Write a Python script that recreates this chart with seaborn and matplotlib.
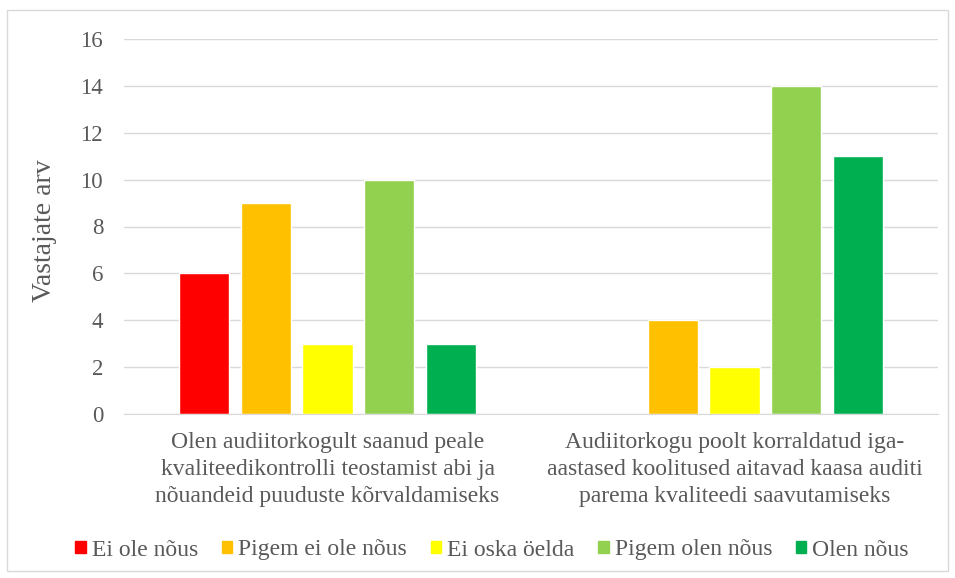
import pandas as pd
import seaborn as sns
import matplotlib.pyplot as plt
from matplotlib.patches import Rectangle

# Chart data
statements = [
    'Olen audiitorkogult saanud peale\nkvaliteedikontrolli teostamist abi ja\nnõuandeid puuduste kõrvaldamiseks',
    'Audiitorkogu poolt korraldatud iga-\naastased koolitused aitavad kaasa auditi\nparema kvaliteedi saavutamiseks',
]
answers = ['Ei ole nõus', 'Pigem ei ole nõus', 'Ei oska öelda', 'Pigem olen nõus', 'Olen nõus']
counts_first = [6, 9, 3, 10, 3]
counts_second = [0, 4, 2, 14, 11]
colors = ['#FF0000', '#FFC000', '#FFFF00', '#92D050', '#00B050']
y_ticks = [0, 2, 4, 6, 8, 10, 12, 14, 16]

df = pd.DataFrame({
    'statement': [statements[0]] * 5 + [statements[1]] * 5,
    'answer': answers * 2,
    'count': counts_first + counts_second,
})

sns.set_style('white')
plt.rcParams['font.family'] = ['Liberation Serif', 'DejaVu Serif']
text_color = '#595959'

fig = plt.figure(figsize=(9.55, 5.78), dpi=100)
ax = fig.add_axes([124 / 955, 1 - 414 / 578, 814 / 955, 375 / 578])

sns.barplot(data=df, x='statement', y='count', hue='answer', hue_order=answers,
            palette=colors, width=0.76, gap=0.19, saturation=1, ax=ax, legend=False)

ax.set_ylim(0, 16)
ax.set_yticks(y_ticks)
ax.yaxis.grid(True, color='#D9D9D9', linewidth=1)
ax.set_axisbelow(True)
for s in ['top', 'right', 'left']:
    ax.spines[s].set_visible(False)
ax.spines['bottom'].set_color('#D9D9D9')
ax.tick_params(axis='y', length=0, pad=15, labelsize=16.5, labelcolor=text_color)
ax.tick_params(axis='x', length=0, pad=13, labelsize=17, labelcolor=text_color)
for lbl in ax.get_xticklabels():
    lbl.set_linespacing(1.38)
ax.set_xlabel('')
ax.set_ylabel('Vastajate arv', fontsize=20, color=text_color)
ax.yaxis.set_label_coords(57 / 955, 1 - 231 / 578, transform=fig.transFigure)

handles = [Rectangle((0, 0), 1, 1, color=c) for c in colors]
fig.legend(handles, answers, loc='center', bbox_to_anchor=(492 / 955, 1 - 550 / 578), ncol=5,
           frameon=False, fontsize=17, labelcolor=text_color, handlelength=0.45,
           handleheight=0.45, handletextpad=0.25, columnspacing=1.0)

# outer border like the chart area frame
fig.add_artist(Rectangle((7 / 955, 1 - 571 / 578), 941 / 955, 561 / 578, transform=fig.transFigure,
                         fill=False, edgecolor='#D9D9D9', linewidth=1))

fig.savefig('out.png', dpi=100)
